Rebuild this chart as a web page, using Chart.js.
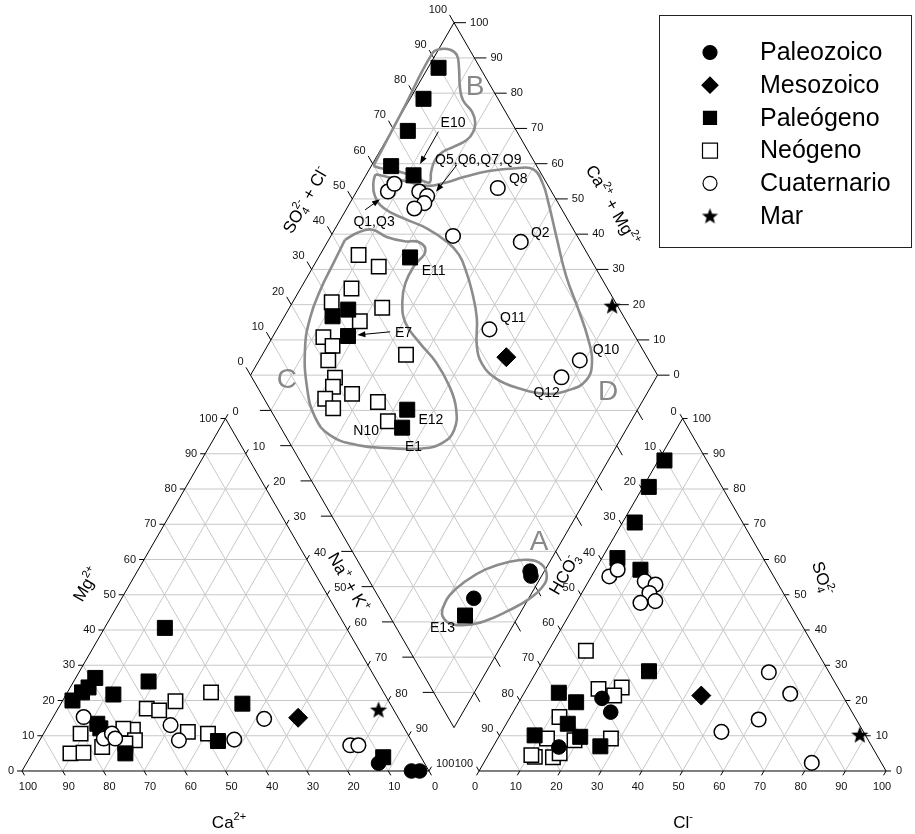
<!DOCTYPE html>
<html>
<head>
<meta charset="utf-8">
<title>Diagrama de Piper</title>
<style>
  html, body { margin: 0; padding: 0; background: #fff; }
  canvas { display: block; }
</style>
<script src="https://cdn.jsdelivr.net/npm/chart.js@4.4.1/dist/chart.umd.min.js"></script>
</head>
<body>
<canvas id="piper" width="915" height="834"></canvas>
<script>
// ---------------------------------------------------------------
// Water samples, % meq/l
// Cation triangle: [Ca2+, Mg2+]   (Na+ + K+ is the remainder)
// ---------------------------------------------------------------
const paleozoicoCation  = [[11.3, 2.2], [4.3, 0], [2.3, 0]];
const mesozoicoCation   = [[24.6, 15.1]];
const paleogenoCation   = [[44.6, 40.6], [56.2, 25.4], [68.8, 26.4], [71.8, 23.7], [74.1, 22.3], [77.6, 20.0],
                           [66.7, 21.7], [74.8, 13.4], [74.7, 12.1], [72.1, 5.0], [47.6, 8.5], [36.3, 19.1], [9.3, 3.9]];
const neogenoCation     = [[42.4, 22.3], [52.4, 19.8], [60.5, 17.7], [57.7, 17.2], [53.7, 11.1], [49.0, 10.6],
                           [66.9, 11.7], [69.1, 12.0], [67.9, 8.7], [70.7, 7.8], [76.9, 6.8], [80.3, 10.6],
                           [85.6, 5.0], [82.3, 5.2]];
const cuaternarioCation = [[77.2, 15.3], [75.3, 9.2], [72.6, 10.6], [72.5, 9.2], [57.0, 13.0], [57.1, 8.7],
                           [43.4, 8.9], [33.1, 14.8], [15.7, 7.3], [13.7, 7.3]];
const marCation         = [[3.7, 17.4]];

// Anion triangle: [Cl-, SO4 2-]   (HCO3- is the remainder)
const paleozoicoAnion  = [[19.9, 20.6], [24.0, 16.7], [16.2, 6.8]];
const mesozoicoAnion   = [[43.9, 21.4]];
const paleogenoAnion   = [[1.5, 88.1], [1.4, 80.6], [3.0, 70.5], [3.8, 60.4], [11.1, 57.1], [27.6, 28.3],
                          [8.5, 22.2], [14.1, 19.5], [15.1, 13.4], [8.6, 10.1], [20.0, 9.7], [26.3, 7.0]];
const neogenoAnion     = [[9.2, 34.1], [17.7, 23.3], [23.2, 23.7], [12.1, 15.3], [12.1, 9.2], [27.8, 9.2],
                          [11.7, 4.0], [16.2, 3.9], [17.3, 5.0], [10.6, 4.5], [19.1, 8.7], [22.5, 21.4]];
const cuaternarioAnion = [[4.4, 55.2], [5.5, 57.1], [13.8, 53.8], [16.9, 52.9], [16.6, 50.5], [15.8, 47.7],
                          [19.2, 48.2], [57.2, 28.0], [65.5, 21.9], [61.4, 14.6], [54.0, 11.1], [80.6, 2.3]];
const marAnion         = [[88.4, 10.3]];

// Central diamond: [Cl- + SO4 2-, Ca2+ + Mg2+]
const paleozoicoDiamond  = [[40.9, 3.5], [40.4, 2.6], [23.2, 13.5]];
const mesozoicoDiamond   = [[65.4, 39.7]];
const paleogenoDiamond   = [[89.8, 97.4], [81.7, 96.7], [73.3, 96.0], [64.2, 95.1], [68.4, 88.3], [55.9, 77.5],
                            [33.3, 85.3], [28.5, 88.2], [29.5, 81.6], [33.6, 56.6], [29.8, 55.3], [18.6, 13.2]];
const neogenoDiamond     = [[43.6, 90.5], [46.9, 83.9], [37.1, 87.5], [30.3, 90.4], [41.9, 77.2], [34.5, 80.8],
                            [23.3, 87.5], [24.3, 84.0], [21.2, 83.0], [41.1, 64.7], [20.4, 78.9], [18.6, 78.1],
                            [22.3, 72.4], [15.0, 78.3], [15.6, 75.0], [27.5, 64.9], [27.2, 59.7]];
const cuaternarioDiamond = [[59.8, 92.3], [62.5, 91.8], [67.5, 84.6], [68.8, 82.0], [67.1, 81.7], [63.9, 83.4],
                            [87.3, 65.8], [69.5, 70.0], [85.3, 52.5], [65.2, 47.8], [83.0, 21.2], [76.1, 23.3]];
const marDiamond         = [[98.7, 21.0]];

// Hydrochemical groups outlined in the diamond: [Cl- + SO4 2-, Ca2+ + Mg2+]
const groupA = [[14.0, 19.7], [17.5, 19.9], [23.7, 17.9], [30.2, 14.7], [36.9, 10.1], [42.1, 5.5], [44.7, 1.6],
                [44.3, -1.3], [41.4, -1.7], [36.5, -0.1], [30.0, 3.2], [22.9, 7.4], [17.4, 11.7], [13.6, 16.1],
                [13.0, 18.7], [14.0, 19.7]];
const groupB = [[59.9, 99.5], [75.0, 100.2], [90.3, 101.0], [92.8, 99.7], [95.2, 97.1], [96.1, 94.7], [94.9, 92.5],
                [92.3, 89.4], [91.2, 86.8], [91.8, 82.9], [91.0, 80.6], [89.2, 79.8], [86.6, 80.2], [82.1, 82.6],
                [79.0, 84.4], [75.9, 85.2], [73.1, 84.4], [71.5, 83.3], [70.3, 84.6], [66.2, 91.2], [61.2, 97.6],
                [59.9, 99.5]];
const groupC = [[42.4, 96.0], [46.5, 93.9], [50.4, 90.9], [53.2, 85.9], [56.8, 81.2], [60.3, 77.4], [60.5, 74.6],
                [55.8, 75.3], [51.1, 75.0], [47.8, 73.2], [45.5, 69.4], [46.1, 63.2], [47.4, 56.2], [47.3, 49.7],
                [45.8, 44.8], [42.2, 42.2], [37.4, 43.3], [31.8, 47.4], [23.8, 55.5], [16.2, 64.0], [11.0, 72.0],
                [9.9, 78.2], [12.1, 84.3], [17.3, 90.5], [22.8, 93.5], [29.0, 94.9], [36.0, 95.5], [42.4, 96.0]];
const groupD = [[59.2, 97.8], [62.2, 93.9], [66.0, 88.9], [70.3, 83.4], [74.8, 79.7], [80.5, 75.7], [87.5, 70.4],
                [94.7, 64.0], [98.7, 59.7], [99.0, 55.5], [97.7, 51.4], [94.8, 44.5], [91.6, 36.5], [89.9, 28.9],
                [88.1, 22.2], [85.7, 17.9], [81.7, 16.8], [75.9, 19.8], [69.8, 24.9], [64.0, 32.3], [59.8, 39.3],
                [58.5, 44.8], [59.8, 48.6], [63.7, 52.5], [66.3, 57.5], [67.7, 61.8], [68.3, 65.9], [67.2, 70.6],
                [64.2, 77.4], [60.0, 84.4], [56.4, 91.0], [56.0, 95.0], [57.6, 97.2], [59.2, 97.8]];

// Tick values shared by every ternary axis
const tickValues = [0, 10, 20, 30, 40, 50, 60, 70, 80, 90, 100];

// ---------------------------------------------------------------
// Piper geometry (plot units: triangle side = 100)
// ---------------------------------------------------------------
const H = Math.sqrt(3) / 2;
const GAP = 12.3;                       // space between the two triangles
const BX = 100 + GAP / 2, BY = GAP * H; // lower vertex of the diamond

const cationXY  = ([ca, mg]) => ({ x: (100 - ca - mg) + mg / 2, y: mg * H });
const anionXY   = ([cl, so4]) => ({ x: 100 + GAP + cl + so4 / 2, y: so4 * H });
const diamondXY = ([b, a]) => ({ x: BX + (b - a) / 2, y: BY + (a + b) * H });

const FONT = '"Liberation Sans", Arial, Helvetica, sans-serif';

function starCanvas(outer, inner) {
  const size = Math.ceil(outer * 2 + 2);
  const cv = document.createElement('canvas');
  cv.width = size; cv.height = size;
  const g = cv.getContext('2d');
  g.translate(size / 2, size / 2 + outer * 0.08);
  g.beginPath();
  for (let i = 0; i < 10; i++) {
    const r = i % 2 ? inner : outer;
    const ang = -Math.PI / 2 + i * Math.PI / 5;
    g.lineTo(r * Math.cos(ang), r * Math.sin(ang));
  }
  g.closePath();
  g.fillStyle = '#000';
  g.fill();
  return cv;
}
const starPoint = starCanvas(9, 3.8);
const starLegend = starCanvas(8.5, 3.6);

const groups = [
  { label: 'Paleozoico',  cation: paleozoicoCation,  anion: paleozoicoAnion,  diamond: paleozoicoDiamond,
    style: 'circle', radius: 7.3, fill: '#000', border: 1, order: 3 },
  { label: 'Mesozoico',   cation: mesozoicoCation,   anion: mesozoicoAnion,   diamond: mesozoicoDiamond,
    style: 'rectRot', radius: 9.5, fill: '#000', border: 1, order: 2 },
  { label: 'Paleógeno',   cation: paleogenoCation,   anion: paleogenoAnion,   diamond: paleogenoDiamond,
    style: 'rect', radius: 10.6, fill: '#000', border: 1, order: 5 },
  { label: 'Neógeno',     cation: neogenoCation,     anion: neogenoAnion,     diamond: neogenoDiamond,
    style: 'rect', radius: 10.2, fill: '#fff', border: 1.5, order: 6 },
  { label: 'Cuaternario', cation: cuaternarioCation, anion: cuaternarioAnion, diamond: cuaternarioDiamond,
    style: 'circle', radius: 7.3, fill: '#fff', border: 1.5, order: 4 },
  { label: 'Mar',         cation: marCation,         anion: marAnion,         diamond: marDiamond,
    style: starPoint, radius: 9, fill: '#000', border: 0, order: 1 }
];

const outlines = [groupA, groupB, groupC, groupD];

const datasets = groups.map(g => ({
  label: g.label,
  data: [...g.cation.map(cationXY), ...g.anion.map(anionXY), ...g.diamond.map(diamondXY)],
  pointStyle: g.style,
  pointRadius: g.radius,
  backgroundColor: g.fill,
  borderColor: '#000',
  borderWidth: g.border,
  order: g.order
})).concat(outlines.map((o, i) => ({
  label: 'grupo ' + 'ABCD'[i],
  data: o.map(diamondXY),
  showLine: true,
  tension: 0.45,
  pointRadius: 0,
  borderColor: '#8c8c8c',
  borderWidth: 2.6,
  fill: false,
  order: 10
})));

// Labels inside the diamond, anchored in [Cl- + SO4 2-, Ca2+ + Mg2+]
const sampleLabels = [
  { text: 'E10', at: [85.5, 86.0], align: 'center' },
  { text: 'Q5,Q6,Q7,Q9', at: [75.85, 85.15], align: 'left' },
  { text: 'Q8', at: [91.3, 64.3], align: 'left' },
  { text: 'Q1,Q3', at: [52.0, 91.3], align: 'center' },
  { text: 'Q2', at: [89.1, 51.3], align: 'left' },
  { text: 'E11', at: [56.9, 72.75], align: 'left' },
  { text: 'E7', at: [41.45, 70.45], align: 'left' },
  { text: 'Q11', at: [69.35, 46.75], align: 'left' },
  { text: 'Q10', at: [87.65, 19.45], align: 'left' },
  { text: 'Q12', at: [67.0, 28.0], align: 'left' },
  { text: 'E12', at: [34.9, 52.4], align: 'left' },
  { text: 'N10', at: [17.25, 66.75], align: 'left' },
  { text: 'E1', at: [27.8, 51.9], align: 'left' },
  { text: 'E13', at: [8.2, 20.0], align: 'left' }
];
const sampleArrows = [
  { from: [80.7, 88.4], to: [71.6, 88.3] },
  { from: [80.45, 79.15], to: [71.6, 80.45] },
  { from: [51.6, 95.3], to: [56.75, 93.15] },
  { from: [40.45, 71.85], to: [31.95, 79.45] }
];
const groupLetters = [
  { text: 'A', at: [47.25, 5.45] },
  { text: 'B', at: [96.05, 85.75] },
  { text: 'C', at: [8.25, 90.35] },
  { text: 'D', at: [85.45, 9.75] }
];

// ---------------------------------------------------------------
// Drawing helpers
// ---------------------------------------------------------------
const DIR = { L: [-1, 0], R: [1, 0], UL: [-0.5, -H], UR: [0.5, -H], DL: [-0.5, H], DR: [0.5, H] };

function richText(c, parts, x, y, angle, size) {
  const small = Math.round(size * 0.62);
  const fontN = size + 'px ' + FONT, fontS = small + 'px ' + FONT;
  let cursor = 0, lastStart = 0;
  const placed = [];
  for (const [t, kind] of parts) {
    c.font = kind ? fontS : fontN;
    const w = c.measureText(t).width;
    if (kind === 'stack') {
      placed.push({ t, kind: 'sup', x: lastStart });
      cursor = Math.max(cursor, lastStart + w);
    } else {
      placed.push({ t, kind, x: cursor });
      lastStart = cursor;
      cursor += w;
    }
  }
  c.save();
  c.translate(x, y);
  c.rotate(angle);
  c.textAlign = 'left';
  c.textBaseline = 'alphabetic';
  c.fillStyle = '#000';
  const base = size * 0.36;
  for (const p of placed) {
    c.font = p.kind ? fontS : fontN;
    let dy = base;
    if (p.kind === 'sup') dy -= size * 0.45;
    if (p.kind === 'sub') dy += size * 0.2;
    c.fillText(p.t, p.x - cursor / 2, dy);
  }
  c.restore();
}

const piperFrame = {
  id: 'piperFrame',
  beforeDatasetsDraw(chart) {
    const c = chart.ctx;
    const P = p => ({ x: chart.scales.x.getPixelForValue(p.x), y: chart.scales.y.getPixelForValue(p.y) });
    const seg = (p, q) => { const a = P(p), b = P(q); c.moveTo(a.x, a.y); c.lineTo(b.x, b.y); };
    const poly = pts => { pts.forEach((p, i) => { const a = P(p); i ? c.lineTo(a.x, a.y) : c.moveTo(a.x, a.y); }); c.closePath(); };

    c.save();
    // grid
    c.strokeStyle = '#c8c8c8';
    c.lineWidth = 1;
    c.beginPath();
    for (let k = 10; k < 100; k += 10) {
      seg(cationXY([100 - k, k]), cationXY([0, k]));
      seg(cationXY([k, 0]), cationXY([k, 100 - k]));
      seg(cationXY([100 - k, 0]), cationXY([0, 100 - k]));
      seg(anionXY([0, k]), anionXY([100 - k, k]));
      seg(anionXY([k, 0]), anionXY([k, 100 - k]));
      seg(anionXY([100 - k, 0]), anionXY([0, 100 - k]));
      seg(diamondXY([k, 0]), diamondXY([k, 100]));
      seg(diamondXY([0, k]), diamondXY([100, k]));
    }
    for (let s = 10; s < 200; s += 10) {
      if (s <= 100) seg(diamondXY([0, s]), diamondXY([s, 0]));
      else seg(diamondXY([s - 100, 100]), diamondXY([100, s - 100]));
    }
    c.stroke();

    // frames
    c.strokeStyle = '#000';
    c.lineWidth = 1;
    c.beginPath();
    poly([cationXY([100, 0]), cationXY([0, 0]), cationXY([0, 100])]);
    poly([anionXY([0, 0]), anionXY([100, 0]), anionXY([0, 100])]);
    poly([diamondXY([0, 0]), diamondXY([100, 0]), diamondXY([100, 100]), diamondXY([0, 100])]);
    c.stroke();

    // ticks and tick labels
    c.font = '11px ' + FONT;
    c.fillStyle = '#111';
    c.textBaseline = 'middle';
    const tick = (p, d, len) => { c.moveTo(p.x, p.y); c.lineTo(p.x + DIR[d][0] * len, p.y + DIR[d][1] * len); };
    const label = (t, x, y, align) => { c.textAlign = align; c.fillText(t, x, y); };
    c.beginPath();
    for (const k of tickValues) {
      const t = String(k);
      let p;
      // cations
      p = P(cationXY([k, 0]));        tick(p, 'DR', 5); label(t, p.x + 6, p.y + 16, 'center');
      p = P(cationXY([100 - k, k]));  tick(p, 'L', 5);  label(t, p.x - 8, p.y, 'right');
      p = P(cationXY([0, 100 - k]));  tick(p, 'UR', 5); label(t, p.x + 7, p.y - 7, 'left');
      // anions
      p = P(anionXY([k, 0]));         tick(p, 'DL', 5); label(t, p.x - 4, p.y + 16, 'center');
      p = P(anionXY([100 - k, k]));   tick(p, 'R', 5);  label(t, p.x + 10, p.y, 'left');
      p = P(anionXY([0, 100 - k]));   tick(p, 'UL', 5); label(t, p.x - 6, p.y - 7, 'right');
      // diamond
      p = P(diamondXY([k, 100]));     tick(p, 'UL', 9); label(t, p.x - 7, p.y - 13, 'right');
      p = P(diamondXY([100, k]));     tick(p, 'R', 12); label(t, p.x + 16, p.y, 'left');
      if (k > 0 && k < 100) {
        p = P(diamondXY([0, k]));     tick(p, 'L', 11);
        p = P(diamondXY([k, 0]));     tick(p, 'DR', 11);
      }
    }
    c.stroke();

    // axis titles
    richText(c, [['Ca', ''], ['2+', 'sup']], 229, 822, 0, 17);
    richText(c, [['Cl', ''], ['-', 'sup']], 683, 822, 0, 17);
    richText(c, [['Mg', ''], ['2+', 'sup']], 86, 584, -Math.PI / 3, 17);
    richText(c, [['Na', ''], ['+', 'sup'], [' + ', ''], ['K', ''], ['+', 'sup']], 349, 582, Math.PI / 3, 17);
    richText(c, [['HCO', ''], ['3', 'sub'], ['-', 'stack']], 564, 574, -Math.PI / 3, 17);
    richText(c, [['SO', ''], ['4', 'sub'], ['2-', 'stack']], 823, 578, 1.25, 17);
    richText(c, [['SO', ''], ['4', 'sub'], ['2-', 'stack'], [' + ', ''], ['Cl', ''], ['-', 'sup']], 305, 200, -Math.PI / 3, 17);
    richText(c, [['Ca', ''], ['2+', 'sup'], [' + ', ''], ['Mg', ''], ['2+', 'sup']], 613, 205, Math.PI / 3, 17);

    // group letters
    c.font = '28px ' + FONT;
    c.fillStyle = '#888';
    c.textAlign = 'center';
    c.textBaseline = 'middle';
    for (const g of groupLetters) {
      const p = P(diamondXY(g.at));
      c.fillText(g.text, p.x, p.y);
    }
    c.restore();
  },
  afterDatasetsDraw(chart) {
    const c = chart.ctx;
    const P = p => ({ x: chart.scales.x.getPixelForValue(p.x), y: chart.scales.y.getPixelForValue(p.y) });
    c.save();
    // sample labels
    c.font = '14px ' + FONT;
    c.fillStyle = '#000';
    c.textBaseline = 'middle';
    for (const l of sampleLabels) {
      const p = P(diamondXY(l.at));
      c.textAlign = l.align;
      c.fillText(l.text, p.x, p.y);
    }
    // arrows
    c.strokeStyle = '#000';
    c.lineWidth = 1;
    for (const a of sampleArrows) {
      const s = P(diamondXY(a.from)), e = P(diamondXY(a.to));
      const ang = Math.atan2(e.y - s.y, e.x - s.x);
      c.beginPath();
      c.moveTo(s.x, s.y);
      c.lineTo(e.x - Math.cos(ang) * 4, e.y - Math.sin(ang) * 4);
      c.stroke();
      c.beginPath();
      c.moveTo(e.x, e.y);
      c.lineTo(e.x - Math.cos(ang) * 8 - Math.sin(ang) * 3, e.y - Math.sin(ang) * 8 + Math.cos(ang) * 3);
      c.lineTo(e.x - Math.cos(ang) * 8 + Math.sin(ang) * 3, e.y - Math.sin(ang) * 8 - Math.cos(ang) * 3);
      c.closePath();
      c.fillStyle = '#000';
      c.fill();
    }
    c.restore();
  },
  afterDraw(chart) {
    // legend box
    const c = chart.ctx;
    c.save();
    c.strokeStyle = '#222';
    c.lineWidth = 1;
    c.strokeRect(659.5, 15.5, 252, 232);
    const x0 = 710, tx = 760, y0 = 52.5, step = 32.7;
    c.font = '25px ' + FONT;
    c.textAlign = 'left';
    c.textBaseline = 'middle';
    groups.forEach((g, i) => {
      const y = y0 + i * step;
      c.fillStyle = g.fill;
      c.strokeStyle = '#000';
      c.lineWidth = 1.2;
      c.beginPath();
      if (g.style === 'circle') {
        c.arc(x0, y, 7, 0, Math.PI * 2);
      } else if (g.style === 'rectRot') {
        c.moveTo(x0 - 8, y); c.lineTo(x0, y - 8); c.lineTo(x0 + 8, y); c.lineTo(x0, y + 8); c.closePath();
      } else if (g.style === 'rect') {
        const h = g.fill === '#000' ? 6.5 : 7.5;
        c.rect(x0 - h, y - h, 2 * h, 2 * h);
      }
      if (g.style === starPoint) {
        c.drawImage(starLegend, x0 - starLegend.width / 2, y - starLegend.height / 2);
      } else {
        c.fill();
        c.stroke();
      }
      c.fillStyle = '#000';
      c.fillText(g.label, tx, y + 1);
    });
    c.restore();
  }
};

new Chart(document.getElementById('piper'), {
  type: 'scatter',
  data: { datasets },
  options: {
    responsive: false,
    animation: false,
    devicePixelRatio: 1,
    events: [],
    layout: { padding: 0, autoPadding: false },
    scales: {
      x: { type: 'linear', min: -5.405, max: 219.41, display: false },
      y: { type: 'linear', min: -15.48, max: 189.43, display: false }
    },
    plugins: { legend: { display: false }, tooltip: { enabled: false } }
  },
  plugins: [piperFrame]
});
</script>
</body>
</html>
